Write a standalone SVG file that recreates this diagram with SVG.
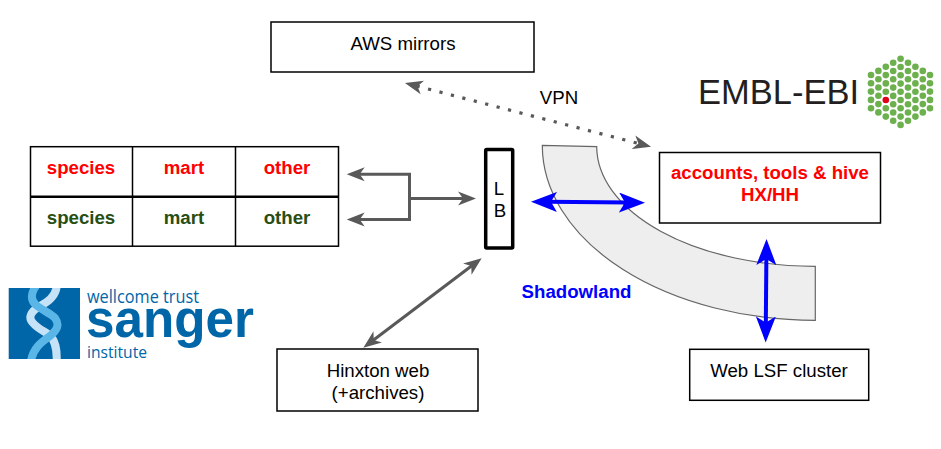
<svg xmlns="http://www.w3.org/2000/svg" width="941" height="449" viewBox="0 0 941 449">
<style>
text{font-family:"Liberation Sans",Arial,sans-serif;font-size:18.67px;fill:#000;text-anchor:middle}
.b{font-weight:bold}
.red{fill:#f00}
.grn{fill:#274e13}
.box{fill:#fff;stroke:#000;stroke-width:1.5}
.g{fill:none;stroke:#595959;stroke-width:3}
.bl{fill:none;stroke:#00f;stroke-width:4}
.logo{fill:#0066a8;text-anchor:start}
.d circle{fill:#6db04e;r:3.3px}
</style>
<defs>
<marker id="ga" markerUnits="userSpaceOnUse" markerWidth="20" markerHeight="16" refX="6" refY="7" orient="auto-start-reverse" viewBox="0 0 20 14"><path d="M18,7 L0,0 L5,7 L0,14Z" fill="#595959"/></marker>
<marker id="ba" markerUnits="userSpaceOnUse" markerWidth="28" markerHeight="20" refX="10" refY="10" orient="auto-start-reverse" viewBox="0 0 28 20"><path d="M26,10 L0,0 L6,10 L0,20Z" fill="#00f"/></marker>
</defs>
<rect width="941" height="449" fill="#fff"/>
<g id="shadowland">
<path d="M542.3,145.3 L596.7,146.7 A218,120 0 0 0 815.3,266.3 L815.3,320.3 A273,175 0 0 1 542.3,145.3Z" fill="#eee" stroke="#666" stroke-width="1.2"/>
<text class="b" x="576.5" y="298" style="fill:#00f">Shadowland</text>
</g>
<g id="connectors">
<path class="g" d="M409.5,198.5H464" marker-end="url(#ga)"/>
<path class="g" d="M358.7,174.3H409.5V219.5H358.7" marker-start="url(#ga)" marker-end="url(#ga)"/>
<path class="g" d="M372.9,340.5L472.1,265.5" marker-start="url(#ga)" marker-end="url(#ga)"/>
<path d="M416.6,86L639.4,143.7" fill="none" stroke="#595959" stroke-width="3.2" stroke-dasharray="3.2 8.6" marker-start="url(#ga)" marker-end="url(#ga)"/>
<path class="bl" d="M547,201.8L629,202.6" marker-start="url(#ba)" marker-end="url(#ba)"/>
<path class="bl" d="M766.4,255L765.8,326.5" marker-start="url(#ba)" marker-end="url(#ba)"/>
</g>
<g id="aws"><rect class="box" x="271" y="22" width="263" height="50"/><text x="403" y="50">AWS mirrors</text></g>
<text id="vpn" x="559" y="104">VPN</text>
<g id="accounts"><rect class="box" x="659.5" y="152.5" width="221" height="70.5"/><text class="b red" x="770" y="179">accounts, tools &amp; hive</text><text class="b red" x="770" y="201">HX/HH</text></g>
<g id="lb"><rect x="485.7" y="149.5" width="27" height="98.5" rx="1" fill="#fff" stroke="#000" stroke-width="3.5"/><text x="499" y="195">L</text><text x="500" y="217">B</text></g>
<g id="table">
<rect class="box" x="30.5" y="146.7" width="308" height="99.5"/>
<path d="M132.5,146.7V246.2M235.5,146.7V246.2" stroke="#000" stroke-width="1.5"/>
<path d="M30.5,196.7H338.5" stroke="#000" stroke-width="2.4"/>
<text class="b red" x="81" y="174">species</text><text class="b red" x="184" y="174">mart</text><text class="b red" x="287" y="174">other</text>
<text class="b grn" x="81" y="223.5">species</text><text class="b grn" x="184" y="223.5">mart</text><text class="b grn" x="287" y="223.5">other</text>
</g>
<g id="hinxton"><rect class="box" x="277" y="349" width="201" height="62"/><text x="378" y="377">Hinxton web</text><text x="378" y="399">(+archives)</text></g>
<g id="weblsf"><rect class="box" x="689.7" y="349.3" width="179" height="51"/><text x="779" y="377">Web LSF cluster</text></g>
<g id="ebi-logo">
<text x="698" y="104" textLength="161" lengthAdjust="spacingAndGlyphs" style="font-size:35px;fill:#231f20;text-anchor:start">EMBL-EBI</text>
<g class="d">
<circle cx="871" cy="75" r="3"/><circle cx="871" cy="83.3" r="3"/><circle cx="871" cy="91.6" r="3"/><circle cx="871" cy="99.9" r="3"/><circle cx="871" cy="108.2" r="3"/>
<circle cx="878.4" cy="70.9" r="3"/><circle cx="878.4" cy="79.2" r="3"/><circle cx="878.4" cy="87.5" r="3"/><circle cx="878.4" cy="95.8" r="3"/><circle cx="878.4" cy="104.1" r="3"/><circle cx="878.4" cy="112.4" r="3"/>
<circle cx="885.8" cy="66.8" r="3"/><circle cx="885.8" cy="75.1" r="3"/><circle cx="885.8" cy="83.4" r="3"/><circle cx="885.8" cy="91.7" r="3"/><circle cx="885.8" cy="108.3" r="3"/><circle cx="885.8" cy="116.6" r="3"/>
<circle cx="893.2" cy="62.7" r="3"/><circle cx="893.2" cy="71" r="3"/><circle cx="893.2" cy="79.3" r="3"/><circle cx="893.2" cy="87.6" r="3"/><circle cx="893.2" cy="95.9" r="3"/><circle cx="893.2" cy="104.2" r="3"/><circle cx="893.2" cy="112.5" r="3"/><circle cx="893.2" cy="120.8" r="3"/>
<circle cx="900.6" cy="58.7" r="3"/><circle cx="900.6" cy="67" r="3"/><circle cx="900.6" cy="75.3" r="3"/><circle cx="900.6" cy="83.6" r="3"/><circle cx="900.6" cy="91.7" r="3"/><circle cx="900.6" cy="100" r="3"/><circle cx="900.6" cy="108.3" r="3"/><circle cx="900.6" cy="116.6" r="3"/><circle cx="900.6" cy="124.9" r="3"/>
<circle cx="908" cy="62.7" r="3"/><circle cx="908" cy="71" r="3"/><circle cx="908" cy="79.3" r="3"/><circle cx="908" cy="87.6" r="3"/><circle cx="908" cy="95.9" r="3"/><circle cx="908" cy="104.2" r="3"/><circle cx="908" cy="112.5" r="3"/><circle cx="908" cy="120.8" r="3"/>
<circle cx="915.4" cy="66.8" r="3"/><circle cx="915.4" cy="75.1" r="3"/><circle cx="915.4" cy="83.4" r="3"/><circle cx="915.4" cy="91.7" r="3"/><circle cx="915.4" cy="100" r="3"/><circle cx="915.4" cy="108.3" r="3"/><circle cx="915.4" cy="116.6" r="3"/>
<circle cx="922.8" cy="70.9" r="3"/><circle cx="922.8" cy="79.2" r="3"/><circle cx="922.8" cy="87.5" r="3"/><circle cx="922.8" cy="95.8" r="3"/><circle cx="922.8" cy="104.1" r="3"/><circle cx="922.8" cy="112.4" r="3"/>
<circle cx="930" cy="75" r="3"/><circle cx="930" cy="83.3" r="3"/><circle cx="930" cy="91.6" r="3"/><circle cx="930" cy="99.9" r="3"/><circle cx="930" cy="108.2" r="3"/>
</g>
<circle cx="885.8" cy="100" r="3.3" fill="#e2001a"/>
</g>
<g id="sanger-logo">
<clipPath id="hx"><rect x="8.7" y="288" width="71.3" height="71"/></clipPath>
<rect x="8.7" y="288" width="71.3" height="71" fill="#0066a8"/>
<g clip-path="url(#hx)" fill="none" stroke-width="8">
<path d="M56.7,286 C56,296 48,302 40,306 C30,312 28,318 33,323 C38,329 44,331 48,334 C56,340 57,350 56.7,361" stroke="#c6e2f6"/>
<path d="M36,286 C31,293 30,300 36,305 C42,310 50,313 55,318 C60,325 57,330 50,336 C40,343 33,349 31,361" stroke="#5bb6e8"/>
</g>
<text class="logo" x="87" y="303" textLength="112" lengthAdjust="spacingAndGlyphs" style="font-family:'Open Sans',sans-serif;font-size:18px">wellcome trust</text>
<text class="logo" x="86" y="337" textLength="168" lengthAdjust="spacingAndGlyphs" style="font-weight:bold;font-size:54px">sanger</text>
<text class="logo" x="87" y="358" textLength="60" lengthAdjust="spacingAndGlyphs" style="font-family:'Open Sans',sans-serif;font-size:17px">institute</text>
</g>
</svg>
